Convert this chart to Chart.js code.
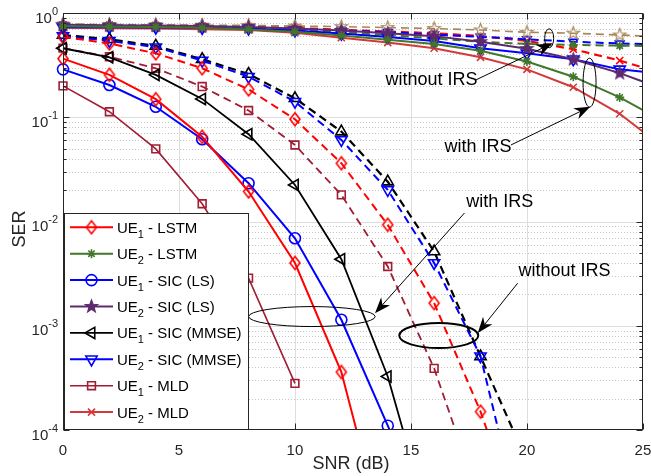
<!DOCTYPE html>
<html>
<head>
<meta charset="utf-8">
<script src="https://cdn.jsdelivr.net/npm/chart.js@4.4.1/dist/chart.umd.min.js"></script>
<style>
  html, body { margin: 0; padding: 0; background: #fff; overflow: hidden; }
  canvas { display: block; }
</style>
</head>
<body>
<canvas id="canvas" width="651" height="476"></canvas>
<script>
const FONT = '"Liberation Sans", Arial, Helvetica, sans-serif';
const TXT = '#262626';

// SNR grid (dB); the last point lies past the right edge and is clipped
const snr = [0, 2, 4, 6, 8, 10, 12, 14, 16, 18, 20, 22, 24, 26];
const xTicks = [0, 5, 10, 15, 20, 25];
const yDecades = [0, -1, -2, -3, -4];

// with IRS (solid lines)
const ue1LstmIRS = [0.365, 0.255, 0.149, 0.065, 0.0194, 0.0040, 3.6e-4, 7e-6];
const ue2LstmIRS = [0.745, 0.74, 0.735, 0.72, 0.695, 0.66, 0.61, 0.555, 0.505, 0.435, 0.342, 0.245, 0.155, 0.089];
const ue1SicLsIRS = [0.288, 0.204, 0.126, 0.0615, 0.0233, 0.0069, 1.14e-3, 1.1e-4, 1.1e-5];
const ue2SicLsIRS = [0.77, 0.765, 0.76, 0.75, 0.735, 0.71, 0.68, 0.64, 0.6, 0.53, 0.455, 0.36, 0.265, 0.182];
const ue1SicMmseIRS = [0.459, 0.376, 0.255, 0.150, 0.0687, 0.0224, 4.35e-3, 3.26e-4, 8.9e-6];
const ue2SicMmseIRS = [0.73, 0.728, 0.725, 0.72, 0.71, 0.68, 0.635, 0.59, 0.54, 0.459, 0.41, 0.36, 0.288, 0.26];
const ue1MldIRS = [0.200, 0.113, 0.0497, 0.0148, 2.86e-3, 2.8e-4];
const ue2MldIRS = [0.72, 0.715, 0.71, 0.70, 0.687, 0.647, 0.58, 0.52, 0.46, 0.376, 0.288, 0.194, 0.108, 0.049];

// without IRS (dashed lines)
const ue1LstmNo = [0.59, 0.51, 0.41, 0.295, 0.185, 0.0957, 0.0362, 9.3e-3, 1.65e-3, 1.5e-4, 8e-6];
const ue2LstmNo = [0.76, 0.755, 0.75, 0.74, 0.72, 0.69, 0.655, 0.615, 0.57, 0.53, 0.505, 0.494, 0.486, 0.48];
const ue1SicLsNo = [0.6, 0.54, 0.47, 0.35, 0.245, 0.141, 0.0606, 0.0201, 4.0e-3, 5.1e-4, 7.4e-6];
const ue2SicLsNo = [0.78, 0.775, 0.77, 0.765, 0.76, 0.75, 0.74, 0.725, 0.71, 0.687, 0.653, 0.64, 0.615, 0.59];
const ue1SicMmseNo = [0.615, 0.56, 0.483, 0.36, 0.26, 0.152, 0.0728, 0.0241, 5.15e-3, 5.07e-4, 5e-5];
const ue2SicMmseNo = [0.765, 0.76, 0.755, 0.745, 0.73, 0.705, 0.68, 0.655, 0.62, 0.59, 0.56, 0.53, 0.51, 0.50];
const ue1MldNo = [0.46, 0.38, 0.295, 0.197, 0.116, 0.0542, 0.018, 3.7e-3, 3.9e-4, 2e-5];
const ue2MldNo = [0.77, 0.765, 0.76, 0.75, 0.74, 0.72, 0.69, 0.665, 0.64, 0.6, 0.54, 0.449, 0.35, 0.257];

// legend: [UE index, method]
const legendLabels = [
  ['1', 'LSTM'], ['2', 'LSTM'], ['1', 'SIC (LS)'], ['2', 'SIC (LS)'],
  ['1', 'SIC (MMSE)'], ['2', 'SIC (MMSE)'], ['1', 'MLD'], ['2', 'MLD']
];

// annotations, anchored in data coordinates
const notes = [
  { text: 'without IRS', tx: 13.9, ty: 0.228, ax: 17.8, ay: 0.228, hx: 21.1, hy: 0.512, ex: 20.96, ey: 0.572, rx: 4.5, ry: 9.5, lw: 1 },
  { text: 'with IRS', tx: 16.45, ty: 0.0519, ax: 19.31, ay: 0.0542, hx: 22.73, hy: 0.1264, ex: 22.7, ey: 0.2147, rx: 6.5, ry: 24.5, lw: 1 },
  { text: 'with IRS', tx: 17.38, ty: 0.01541, ax: 17.31, ay: 0.01208, hx: 13.45, hy: 1.32e-3, ex: 10.73, ey: 1.225e-3, rx: 63.3, ry: 10, lw: 1 },
  { text: 'without IRS', tx: 19.64, ty: 3.32e-3, ax: 19.6, ay: 2.56e-3, hx: 17.88, hy: 8.5e-4, ex: 16.2, ey: 8.05e-4, rx: 39.5, ry: 12.5, lw: 2 }
];

const RED = '#ff0000', GREEN = '#41772a', BLUE = '#0000ff', PURPLE = '#5e2a6e',
      BLACK = '#000000', DARKRED = '#a01d34', CRIMSON = '#d23a3a', TAN = '#a6875a';

function makePentagram(color, filled, r) {
  const c = document.createElement('canvas');
  const s = Math.ceil(r * 2 + 4);
  c.width = s; c.height = s;
  const g = c.getContext('2d');
  g.beginPath();
  for (let k = 0; k < 10; k++) {
    const rr = k % 2 === 0 ? r : r * 0.42;
    const a = -Math.PI / 2 + k * Math.PI / 5;
    g.lineTo(s / 2 + rr * Math.cos(a), s / 2 + rr * Math.sin(a));
  }
  g.closePath();
  if (filled) { g.fillStyle = color; g.fill(); }
  g.strokeStyle = color; g.lineWidth = 1.2; g.stroke();
  return c;
}

function makeDiamond(color, hw, hh) {
  const c = document.createElement('canvas');
  const w = Math.ceil(hw * 2 + 4), h = Math.ceil(hh * 2 + 4);
  c.width = w; c.height = h;
  const g = c.getContext('2d');
  g.beginPath();
  g.moveTo(w / 2, h / 2 - hh); g.lineTo(w / 2 + hw, h / 2);
  g.lineTo(w / 2, h / 2 + hh); g.lineTo(w / 2 - hw, h / 2);
  g.closePath();
  g.strokeStyle = color; g.lineWidth = 1.6; g.stroke();
  return c;
}

const diamondRed = makeDiamond(RED, 5, 6.5);
const starPurple = makePentagram(PURPLE, true, 6.5);
const starTan = makePentagram(TAN, false, 6.5);

function pts(arr) {
  return snr.map((x, i) => ({ x, y: arr[i] })).filter(p => p.y != null);
}

function series(label, arr, color, style, opts = {}) {
  return Object.assign({
    label,
    data: pts(arr),
    borderColor: color,
    backgroundColor: color,
    borderWidth: 1.8,
    pointStyle: style,
    pointRadius: 5,
    pointBorderWidth: 1.6,
    pointBorderColor: color,
    pointBackgroundColor: 'rgba(0,0,0,0)',
    pointRotation: 0,
    tension: 0,
    clip: { left: 8, top: 8, right: 0, bottom: 0 }
  }, opts);
}

const DASH = [8, 5];

const datasets = [
  series('UE1 - LSTM', ue1LstmIRS, RED, diamondRed, { borderWidth: 2 }),
  series('UE2 - LSTM', ue2LstmIRS, GREEN, 'star', { pointRadius: 4.5, borderWidth: 2 }),
  series('UE1 - SIC (LS)', ue1SicLsIRS, BLUE, 'circle', { pointRadius: 5.5, borderWidth: 2 }),
  series('UE2 - SIC (LS)', ue2SicLsIRS, PURPLE, starPurple, { borderWidth: 2 }),
  series('UE1 - SIC (MMSE)', ue1SicMmseIRS, BLACK, 'triangle', { pointRadius: 6.5, pointRotation: -90 }),
  series('UE2 - SIC (MMSE)', ue2SicMmseIRS, BLUE, 'triangle', { pointRadius: 6.5, pointRotation: 180, borderWidth: 2 }),
  series('UE1 - MLD', ue1MldIRS, DARKRED, 'rect', { pointRadius: 5.5, borderWidth: 1.6 }),
  series('UE2 - MLD', ue2MldIRS, CRIMSON, 'crossRot', { pointRadius: 5, borderWidth: 2 }),

  series('UE1 - LSTM (no IRS)', ue1LstmNo, RED, diamondRed, { borderDash: DASH, borderWidth: 2 }),
  series('UE2 - LSTM (no IRS)', ue2LstmNo, GREEN, 'star', { borderDash: DASH, pointRadius: 4.5, borderWidth: 2 }),
  series('UE1 - SIC (LS) (no IRS)', ue1SicLsNo, BLUE, 'triangle', { borderDash: DASH, pointRadius: 6.5, pointRotation: 180, borderWidth: 2 }),
  series('UE2 - SIC (LS) (no IRS)', ue2SicLsNo, TAN, starTan, { borderDash: DASH, borderWidth: 1.6 }),
  series('UE1 - SIC (MMSE) (no IRS)', ue1SicMmseNo, BLACK, 'triangle', { borderDash: DASH, pointRadius: 6.5, borderWidth: 2.2 }),
  series('UE2 - SIC (MMSE) (no IRS)', ue2SicMmseNo, BLUE, 'triangle', { borderDash: DASH, pointRadius: 5, pointRotation: 180, borderWidth: 2 }),
  series('UE1 - MLD (no IRS)', ue1MldNo, DARKRED, 'rect', { borderDash: DASH, pointRadius: 5.5, borderWidth: 1.8 }),
  series('UE2 - MLD (no IRS)', ue2MldNo, RED, 'crossRot', { borderDash: DASH, pointRadius: 5, borderWidth: 2.2 })
];

function drawArrow(ctx, x1, y1, x2, y2) {
  const ang = Math.atan2(y2 - y1, x2 - x1);
  const L = 16, W = 6, back = 0.7;
  const cx = Math.cos(ang), sy = Math.sin(ang);
  ctx.beginPath();
  ctx.moveTo(x1, y1);
  ctx.lineTo(x2 - cx * L * back, y2 - sy * L * back);
  ctx.stroke();
  const bx = x2 - cx * L, by = y2 - sy * L;
  ctx.beginPath();
  ctx.moveTo(x2, y2);
  ctx.lineTo(bx - sy * W, by + cx * W);
  ctx.lineTo(x2 - cx * L * back, y2 - sy * L * back);
  ctx.lineTo(bx + sy * W, by - cx * W);
  ctx.closePath();
  ctx.fill();
}

const decor = {
  id: 'decor',
  beforeDatasetsDraw(chart) {
    const { ctx, chartArea: a, scales: { x, y } } = chart;
    ctx.save();
    ctx.lineWidth = 1;
    // minor dotted grid
    ctx.strokeStyle = '#c6c6c6';
    ctx.setLineDash([1, 2]);
    for (let e = -4; e < 0; e++) {
      for (let k = 2; k <= 9; k++) {
        const py = Math.round(y.getPixelForValue(k * Math.pow(10, e))) + 0.5;
        ctx.beginPath(); ctx.moveTo(a.left, py); ctx.lineTo(a.right, py); ctx.stroke();
      }
    }
    // major grid
    ctx.setLineDash([]);
    ctx.strokeStyle = '#dedede';
    xTicks.slice(1, -1).forEach(v => {
      const px = Math.round(x.getPixelForValue(v)) + 0.5;
      ctx.beginPath(); ctx.moveTo(px, a.top); ctx.lineTo(px, a.bottom); ctx.stroke();
    });
    yDecades.slice(1, -1).forEach(e => {
      const py = Math.round(y.getPixelForValue(Math.pow(10, e))) + 0.5;
      ctx.beginPath(); ctx.moveTo(a.left, py); ctx.lineTo(a.right, py); ctx.stroke();
    });
    ctx.restore();
  },
  afterDatasetsDraw(chart) {
    const { ctx, chartArea: a, scales: { x, y } } = chart;
    ctx.save();

    // annotations
    ctx.strokeStyle = '#000'; ctx.fillStyle = '#000';
    notes.forEach(n => {
      ctx.lineWidth = n.lw;
      ctx.beginPath();
      ctx.ellipse(x.getPixelForValue(n.ex), y.getPixelForValue(n.ey), n.rx, n.ry, 0, 0, Math.PI * 2);
      ctx.stroke();
      ctx.lineWidth = 1;
      drawArrow(ctx, x.getPixelForValue(n.ax), y.getPixelForValue(n.ay), x.getPixelForValue(n.hx), y.getPixelForValue(n.hy));
      ctx.font = '18px ' + FONT;
      ctx.textAlign = 'left'; ctx.textBaseline = 'middle';
      ctx.fillText(n.text, x.getPixelForValue(n.tx), y.getPixelForValue(n.ty));
    });

    // frame and inward ticks
    const L = Math.round(a.left) + 0.5, R = Math.round(a.right) - 0.5;
    const T = Math.round(a.top) + 0.5, B = Math.round(a.bottom) - 0.5;
    ctx.strokeStyle = TXT; ctx.lineWidth = 1;
    ctx.strokeRect(L, T, R - L, B - T);
    ctx.beginPath();
    xTicks.forEach(v => {
      const px = Math.round(x.getPixelForValue(v)) + 0.5;
      ctx.moveTo(px, B); ctx.lineTo(px, B - 6);
      ctx.moveTo(px, T); ctx.lineTo(px, T + 6);
    });
    for (let e = -4; e <= 0; e++) {
      for (let k = 1; k <= 9; k++) {
        if (e === 0 && k > 1) break;
        const len = k === 1 ? 6 : 3;
        const py = Math.round(y.getPixelForValue(k * Math.pow(10, e))) + 0.5;
        ctx.moveTo(L, py); ctx.lineTo(L + len, py);
        ctx.moveTo(R, py); ctx.lineTo(R - len, py);
      }
    }
    ctx.stroke();

    // legend box
    const bx = 64.5, by = 213.5, bw = 184, bh = 216;
    ctx.fillStyle = '#fff';
    ctx.fillRect(bx, by, bw, bh);
    ctx.strokeStyle = TXT;
    ctx.strokeRect(bx, by, bw, bh);
    const helpers = Chart.helpers;
    legendLabels.forEach((lab, i) => {
      const ds = chart.data.datasets[i];
      const ry = 227.3 + i * 26.4;
      ctx.save();
      ctx.strokeStyle = ds.borderColor;
      ctx.lineWidth = ds.borderWidth;
      ctx.setLineDash([]);
      ctx.beginPath(); ctx.moveTo(70, ry); ctx.lineTo(113, ry); ctx.stroke();
      ctx.fillStyle = ds.pointBackgroundColor;
      ctx.lineWidth = ds.pointBorderWidth;
      helpers.drawPoint(ctx, {
        pointStyle: ds.pointStyle, radius: ds.pointRadius,
        rotation: ds.pointRotation, borderWidth: ds.pointBorderWidth
      }, 91.5, ry);
      ctx.restore();
      ctx.fillStyle = '#000';
      ctx.textAlign = 'left'; ctx.textBaseline = 'alphabetic';
      ctx.font = '15px ' + FONT;
      let tx = 117;
      ctx.fillText('UE', tx, ry + 5.5);
      tx += ctx.measureText('UE').width;
      ctx.font = '11px ' + FONT;
      ctx.fillText(lab[0], tx, ry + 10.5);
      tx += ctx.measureText(lab[0]).width;
      ctx.font = '15px ' + FONT;
      ctx.fillText(' - ' + lab[1], tx, ry + 5.5);
    });

    // tick labels
    ctx.fillStyle = TXT;
    ctx.font = '15px ' + FONT;
    ctx.textAlign = 'center'; ctx.textBaseline = 'alphabetic';
    xTicks.forEach(v => ctx.fillText(String(v), x.getPixelForValue(v), 455));
    yDecades.forEach(e => {
      const py = y.getPixelForValue(Math.pow(10, e));
      const ex = e === 0 ? '0' : '-' + (-e);
      ctx.font = '11px ' + FONT;
      const ew = ctx.measureText(ex).width;
      ctx.font = '15px ' + FONT;
      const bwid = ctx.measureText('10').width;
      const right = a.left - 5;
      ctx.textAlign = 'left';
      ctx.fillText('10', right - ew - bwid, py + 9.5);
      ctx.font = '11px ' + FONT;
      ctx.fillText(ex, right - ew, py + 1.5);
    });

    // axis titles
    ctx.font = '18px ' + FONT;
    ctx.textAlign = 'center';
    ctx.fillText('SNR (dB)', 351, 469);
    ctx.save();
    ctx.translate(25, 229);
    ctx.rotate(-Math.PI / 2);
    ctx.fillText('SER', 0, 0);
    ctx.restore();

    ctx.restore();
  }
};

new Chart(document.getElementById('canvas'), {
  type: 'line',
  data: { datasets },
  options: {
    responsive: false,
    animation: false,
    layout: { padding: { top: 13, right: 6, left: 0, bottom: 0 } },
    plugins: { legend: { display: false }, tooltip: { enabled: false } },
    scales: {
      x: {
        type: 'linear', min: 0, max: 25,
        grid: { display: false }, border: { display: false }, ticks: { display: false },
        afterFit: s => { s.height = 46; }
      },
      y: {
        type: 'logarithmic', min: 1e-4, max: 1,
        grid: { display: false }, border: { display: false }, ticks: { display: false },
        afterFit: s => { s.width = 63; }
      }
    }
  },
  plugins: [decor]
});
</script>
</body>
</html>
